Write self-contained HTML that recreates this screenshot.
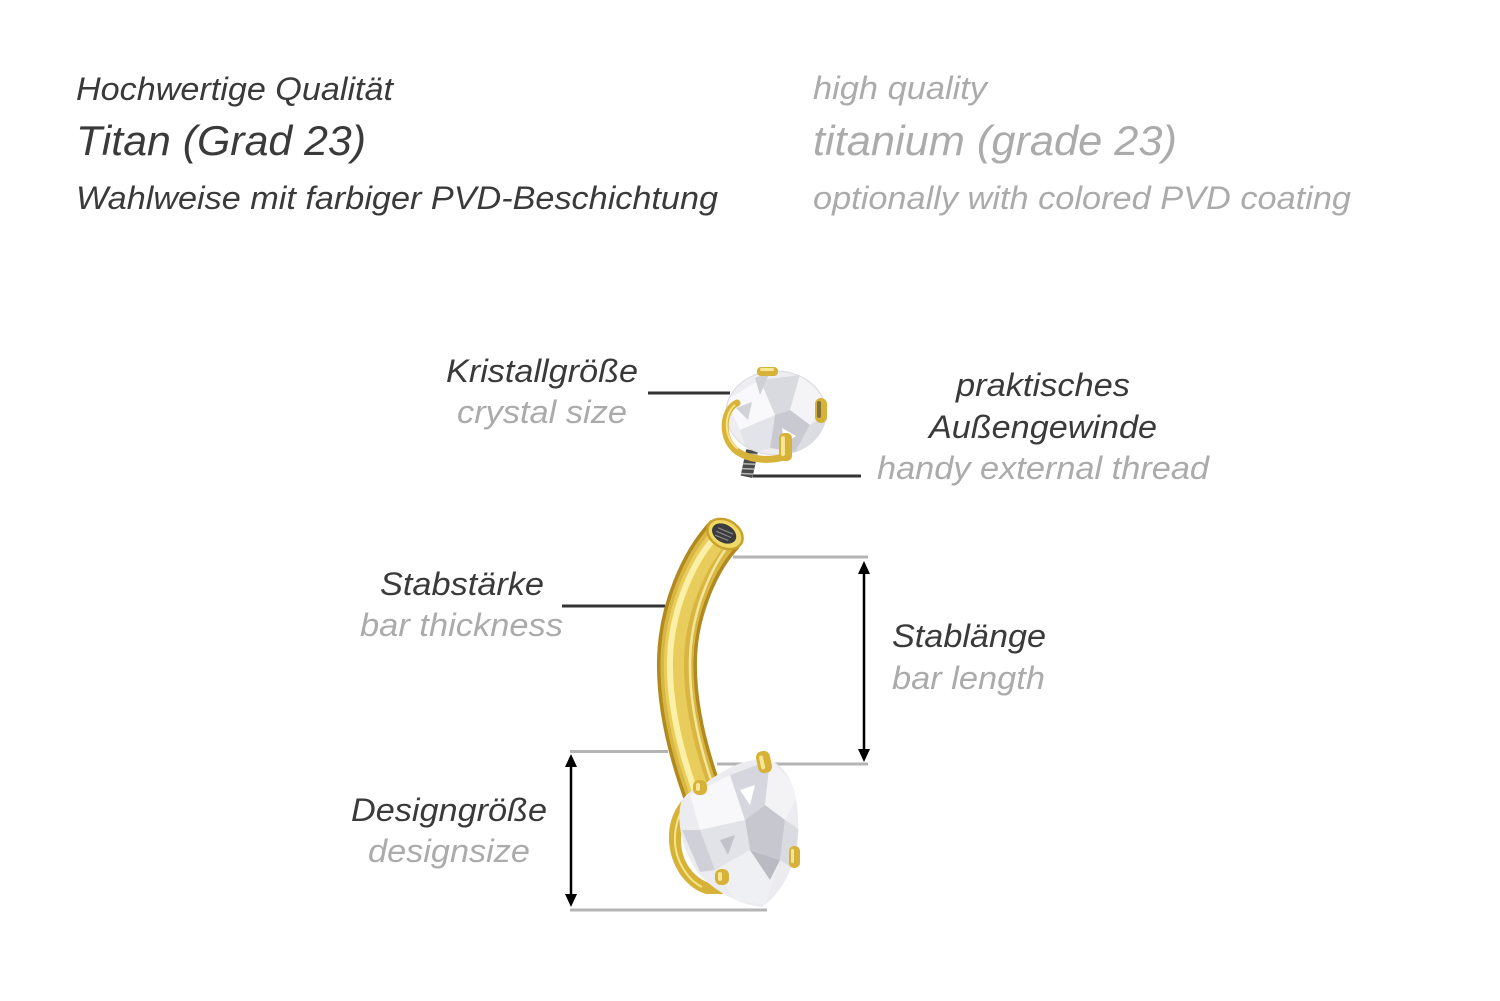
<!DOCTYPE html>
<html>
<head>
<meta charset="utf-8">
<style>
  html,body{margin:0;padding:0;background:#fff;}
  body{width:1500px;height:1001px;overflow:hidden;}
  svg{display:block;}
  text{font-family:"Liberation Sans", Arial, sans-serif;font-style:italic;}
  .d{fill:#3a3a3a;}
  .g{fill:#ababab;}
</style>
</head>
<body>
<svg width="1500" height="1001" viewBox="0 0 1500 1001" xmlns="http://www.w3.org/2000/svg">
  <defs>
    <clipPath id="cg1"><ellipse cx="776" cy="413" rx="50" ry="42"/></clipPath>
    <clipPath id="cg2"><path d="M702 786 C722 770 745 757 768 760 C792 766 800 800 798 835 C796 866 782 893 762 907 C740 905 716 892 701 876 C683 856 676 822 681 803 C685 794 692 790 702 786 Z"/></clipPath>
    <linearGradient id="gold" x1="0" y1="0" x2="1" y2="0">
      <stop offset="0" stop-color="#b68f1f"/>
      <stop offset="0.35" stop-color="#f3dc72"/>
      <stop offset="0.6" stop-color="#e2c04a"/>
      <stop offset="1" stop-color="#a8841a"/>
    </linearGradient>
  </defs>

  <!-- Heading texts -->
  <text class="d" x="76" y="100" font-size="32" textLength="317" lengthAdjust="spacingAndGlyphs">Hochwertige Qualität</text>
  <text class="d" x="76" y="155" font-size="42" textLength="290" lengthAdjust="spacingAndGlyphs">Titan (Grad 23)</text>
  <text class="d" x="76" y="209" font-size="32" textLength="642" lengthAdjust="spacingAndGlyphs">Wahlweise mit farbiger PVD-Beschichtung</text>

  <text class="g" x="813" y="99" font-size="32" textLength="174" lengthAdjust="spacingAndGlyphs">high quality</text>
  <text class="g" x="813" y="155" font-size="42" textLength="364" lengthAdjust="spacingAndGlyphs">titanium (grade 23)</text>
  <text class="g" x="813" y="209" font-size="32" textLength="538" lengthAdjust="spacingAndGlyphs">optionally with colored PVD coating</text>

  <!-- Labels -->
  <text class="d" x="446" y="382" font-size="32" textLength="192" lengthAdjust="spacingAndGlyphs">Kristallgröße</text>
  <text class="g" x="457" y="423" font-size="32" textLength="170" lengthAdjust="spacingAndGlyphs">crystal size</text>

  <text class="d" x="956" y="396" font-size="32" textLength="174" lengthAdjust="spacingAndGlyphs">praktisches</text>
  <text class="d" x="929" y="438" font-size="32" textLength="228" lengthAdjust="spacingAndGlyphs">Außengewinde</text>
  <text class="g" x="877" y="479" font-size="32" textLength="332" lengthAdjust="spacingAndGlyphs">handy external thread</text>

  <text class="d" x="380" y="595" font-size="32" textLength="164" lengthAdjust="spacingAndGlyphs">Stabstärke</text>
  <text class="g" x="360" y="636" font-size="32" textLength="203" lengthAdjust="spacingAndGlyphs">bar thickness</text>

  <text class="d" x="892" y="647" font-size="32" textLength="154" lengthAdjust="spacingAndGlyphs">Stablänge</text>
  <text class="g" x="892" y="689" font-size="32" textLength="153" lengthAdjust="spacingAndGlyphs">bar length</text>

  <text class="d" x="351" y="821" font-size="32" textLength="196" lengthAdjust="spacingAndGlyphs">Designgröße</text>
  <text class="g" x="368" y="862" font-size="32" textLength="162" lengthAdjust="spacingAndGlyphs">designsize</text>

  <!-- Dark pointer lines -->
  <g stroke="#333" stroke-width="3">
    <line x1="648" y1="393" x2="730" y2="393"/>
    <line x1="753" y1="476" x2="861" y2="476"/>
    <line x1="562" y1="606" x2="665" y2="606"/>
  </g>

  <!-- Gray dimension guide lines -->
  <g stroke="#b4b4b4" stroke-width="3">
    <line x1="733" y1="557" x2="868" y2="557"/>
    <line x1="717" y1="764" x2="868" y2="764"/>
    <line x1="570" y1="751.5" x2="668" y2="751.5"/>
    <line x1="570" y1="910" x2="767" y2="910"/>
  </g>

  <!-- Arrows -->
  <g stroke="#000" stroke-width="2.5">
    <line x1="864" y1="570" x2="864" y2="753"/>
    <line x1="571" y1="763" x2="571" y2="898"/>
  </g>
  <g fill="#000">
    <polygon points="864,561 858,574 870,574"/>
    <polygon points="864,762 858,749 870,749"/>
    <polygon points="571,754 565,767 577,767"/>
    <polygon points="571,907 565,894 577,894"/>
  </g>

  <!-- ===== Small top crystal ===== -->
  <!-- thread -->
  <g transform="rotate(12 749 465)">
    <rect x="743" y="450" width="12" height="27" fill="#4a4a4a"/>
    <g stroke="#b8b8b8" stroke-width="1.5">
      <line x1="743" y1="455" x2="755" y2="453"/>
      <line x1="743" y1="460" x2="755" y2="458"/>
      <line x1="743" y1="465" x2="755" y2="463"/>
      <line x1="743" y1="470" x2="755" y2="468"/>
      <line x1="743" y1="475" x2="755" y2="473"/>
    </g>
  </g>
  <!-- gem -->
  <ellipse cx="776" cy="413" rx="50" ry="42" fill="#eeeef2"/>
  <g clip-path="url(#cg1)">
    <polygon points="726,400 760,380 775,415 740,430" fill="#f9f9fb"/>
    <polygon points="760,380 800,375 790,410 775,415" fill="#d9dae0"/>
    <polygon points="800,375 826,400 810,425 790,410" fill="#f4f4f7"/>
    <polygon points="775,415 790,410 810,425 795,452 770,448" fill="#c9cad1"/>
    <polygon points="740,430 775,415 770,448 748,455" fill="#e3e4e9"/>
    <polygon points="810,425 826,415 822,440 795,452" fill="#dcdde3"/>
    <polygon points="755,378 770,372 760,395" fill="#cfd0d6"/>
    <polygon points="782,428 796,436 784,444" fill="#ffffff"/>
    <polygon points="736,408 752,402 748,420" fill="#d2d3d9"/>
  </g>
  <ellipse cx="776" cy="413" rx="50" ry="42" fill="none" stroke="#d8d8de" stroke-width="1"/>
  <!-- gold basket -->
  <path d="M737 403 C722 410 720 440 738 452 C752 461 773 461 786 456 L786 440" fill="none" stroke="#d8b33a" stroke-width="7" stroke-linecap="round"/>
  <path d="M735 405 C724 413 723 438 738 449" fill="none" stroke="#f6e489" stroke-width="2"/>
  <rect x="757" y="367" width="21" height="9" rx="4" fill="#d6b238"/>
  <rect x="760" y="368" width="14" height="3" rx="1.5" fill="#f7e795"/>
  <rect x="815" y="398" width="12" height="25" rx="6" fill="#d6b238"/>
  <rect x="817" y="401" width="4" height="17" rx="2" fill="#3a3a3a" opacity="0.55"/>
  <rect x="779" y="433" width="13" height="28" rx="5" fill="#d6b238"/>
  <rect x="781" y="436" width="4" height="20" rx="2" fill="#f7e795"/>

  <!-- ===== Curved bar ===== -->
  <g fill="none" stroke-linecap="butt">
    <path d="M725 534 C700 560 678 610 677 660 C676 710 690 760 706 802" stroke="#b08a1e" stroke-width="40"/>
    <path d="M725 534 C700 560 678 610 677 660 C676 710 690 760 706 802" stroke="#d9b641" stroke-width="33"/>
    <path d="M725 534 C700 560 678 610 677 660 C676 710 690 760 706 802" stroke="#e9cd5c" stroke-width="20" transform="translate(-3 0)"/>
    <path d="M725 534 C700 560 678 610 677 660 C676 710 690 760 706 802" stroke="#fbf0a8" stroke-width="6" transform="translate(-7 0)"/>
    <path d="M725 534 C700 560 678 610 677 660 C676 710 690 760 706 802" stroke="#f4e59c" stroke-width="2.5" transform="translate(13 0)"/>
  </g>
  <!-- top end cap -->
  <g transform="rotate(30 725 534)">
    <ellipse cx="725" cy="534" rx="20" ry="15" fill="#c9a22c"/>
    <ellipse cx="725" cy="534" rx="17.5" ry="12.5" fill="#f0d866"/>
    <ellipse cx="724" cy="534" rx="13" ry="9" fill="#3c3c3e"/>
    <g stroke="#8a8a8e" stroke-width="1.2">
      <line x1="716" y1="532" x2="732" y2="530"/>
      <line x1="716" y1="536" x2="732" y2="534"/>
      <line x1="717" y1="540" x2="731" y2="538"/>
    </g>
  </g>

  <!-- ===== Heart design ===== -->
  <!-- gold cup -->
  <path d="M702 786 C681 795 668 815 669 840 C670 866 686 888 706 894 L723 894 L723 885 L709 883 C693 877 681 861 681 840 C681 819 690 802 707 794 Z" fill="#d6b238"/>
  <path d="M698 792 C684 802 674 820 675 842 C676 862 688 880 702 887" fill="none" stroke="#f6e489" stroke-width="2"/>
  <!-- gem -->
  <path d="M702 786 C722 770 745 757 768 760 C792 766 800 800 798 835 C796 866 782 893 762 907 C740 905 716 892 701 876 C683 856 676 822 681 803 C685 794 692 790 702 786 Z" fill="#ececf0"/>
  <g clip-path="url(#cg2)">
    <polygon points="690,795 730,775 745,820 700,830" fill="#f8f8fa"/>
    <polygon points="730,775 770,760 765,805 745,820" fill="#d6d7de"/>
    <polygon points="770,760 800,790 785,820 765,805" fill="#f3f3f6"/>
    <polygon points="745,820 765,805 785,820 780,860 750,850" fill="#c6c7cf"/>
    <polygon points="700,830 745,820 750,850 715,870" fill="#e2e3e8"/>
    <polygon points="785,820 800,830 795,870 780,860" fill="#dadbe1"/>
    <polygon points="715,870 750,850 780,860 765,905 735,900" fill="#eff0f3"/>
    <polygon points="750,850 780,860 770,880" fill="#b9bac2"/>
    <polygon points="682,830 700,830 715,870 700,872" fill="#d0d1d8"/>
    <polygon points="740,790 755,785 750,805" fill="#ffffff"/>
    <polygon points="720,840 735,835 728,855" fill="#c2c3ca"/>
  </g>
  <!-- prongs -->
  <rect x="757" y="751" width="14" height="22" rx="6" fill="#d6b238" transform="rotate(-12 764 762)"/>
  <rect x="760" y="755" width="4" height="14" rx="2" fill="#f7e795" transform="rotate(-12 764 762)"/>
  <rect x="693" y="780" width="14" height="15" rx="6" fill="#d6b238"/>
  <rect x="696" y="783" width="4" height="8" rx="2" fill="#f7e795"/>
  <rect x="789" y="846" width="11" height="22" rx="5" fill="#d6b238"/>
  <rect x="791" y="849" width="3" height="14" rx="1.5" fill="#f7e795"/>
  <rect x="715" y="869" width="14" height="16" rx="6" fill="#d6b238"/>
  <rect x="718" y="872" width="4" height="9" rx="2" fill="#f7e795"/>
</svg>
</body>
</html>
